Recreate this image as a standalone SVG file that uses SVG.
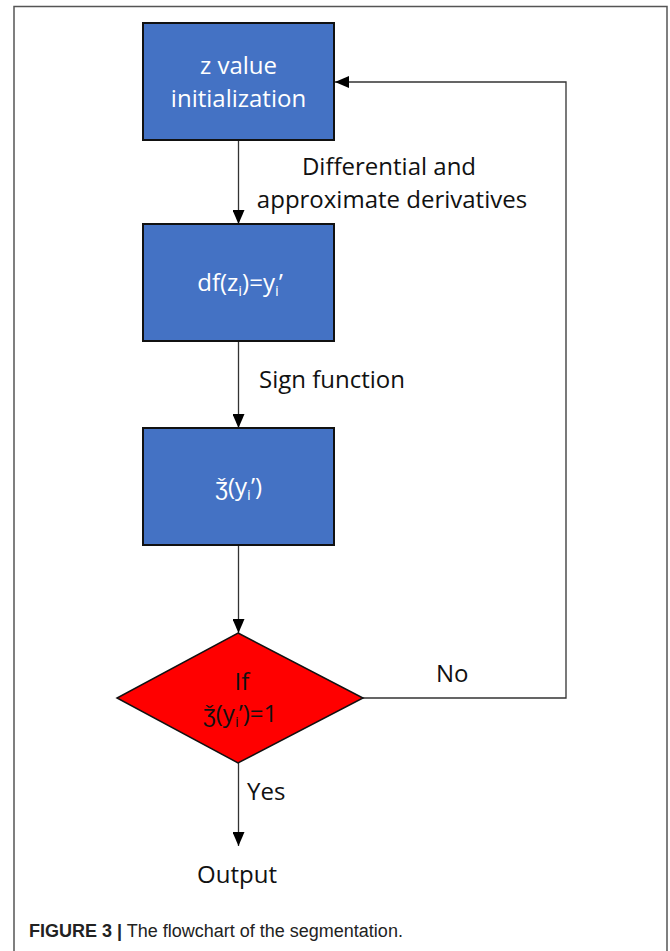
<svg xmlns="http://www.w3.org/2000/svg" width="670" height="951" viewBox="0 0 670 951">
<defs>
<style>
.box{fill:#4472C4;stroke:#111;stroke-width:2}
.dia{fill:#FF0000;stroke:#111;stroke-width:1.5}
.wt{font-family:"Open Sans",sans-serif;font-size:24px;fill:#fff;text-anchor:middle}
.bt{font-family:"Open Sans",sans-serif;font-size:24px;fill:#111}
.mid{text-anchor:middle}
.ln{fill:none;stroke:#333;stroke-width:1.3}
.cap{font-family:"Liberation Sans",sans-serif;font-size:18px;fill:#222}
</style>
<marker id="ah" viewBox="0 0 14 12" refX="14" refY="6" markerWidth="14" markerHeight="12" markerUnits="userSpaceOnUse" orient="auto">
<path d="M0,0 L14,6 L0,12 Z" fill="#000"/>
</marker>
</defs>
<rect width="670" height="951" fill="#fff"/>
<path d="M14,951 V6.5 H667 V951" fill="none" stroke="#555" stroke-width="1.5"/>
<g id="connectors">
<line class="ln" x1="238.5" y1="141" x2="238.5" y2="224" marker-end="url(#ah)"/>
<line class="ln" x1="238.5" y1="341" x2="238.5" y2="428" marker-end="url(#ah)"/>
<line class="ln" x1="238.5" y1="545" x2="238.5" y2="633" marker-end="url(#ah)"/>
<line class="ln" x1="238.5" y1="763" x2="238.5" y2="846" marker-end="url(#ah)"/>
<polyline class="ln" points="363,698 566,698 566,82 335,82" marker-end="url(#ah)"/>
<text class="bt mid" x="389" y="175">Differential and</text>
<text class="bt mid" x="392" y="208">approximate derivatives</text>
<text class="bt" x="259" y="388">Sign function</text>
<text class="bt" x="436" y="682">No</text>
<text class="bt" x="247" y="800">Yes</text>
</g>
<g id="n1">
<rect class="box" x="143" y="23" width="191" height="117"/>
<text class="wt" x="238.5" y="74">z value</text>
<text class="wt" x="238.5" y="107">initialization</text>
</g>
<g id="n2">
<rect class="box" x="143" y="224" width="191" height="117"/>
<text class="wt" x="240" y="291">df(z<tspan font-size="15" dy="5">i</tspan><tspan dy="-5">)=y</tspan><tspan font-size="15" dy="5">i</tspan><tspan dy="-5">’</tspan></text>
</g>
<g id="n3">
<rect class="box" x="143" y="428" width="191" height="117"/>
<text class="wt" x="238.5" y="495">ǯ(y<tspan font-size="15" dy="5">i</tspan><tspan dy="-5">’)</tspan></text>
</g>
<g id="n4">
<polygon class="dia" points="238,633 363,698 238,763 117,698"/>
<text class="bt mid" x="242" y="690">If</text>
<text class="bt mid" x="240" y="722">ǯ(y<tspan font-size="15" dy="5">i</tspan><tspan dy="-5">’)=1</tspan></text>
</g>
<g id="n5">
<text class="bt mid" x="237" y="883">Output</text>
</g>
<text class="cap" x="29" y="937"><tspan font-weight="bold">FIGURE 3 |</tspan> The flowchart of the segmentation.</text>
</svg>
